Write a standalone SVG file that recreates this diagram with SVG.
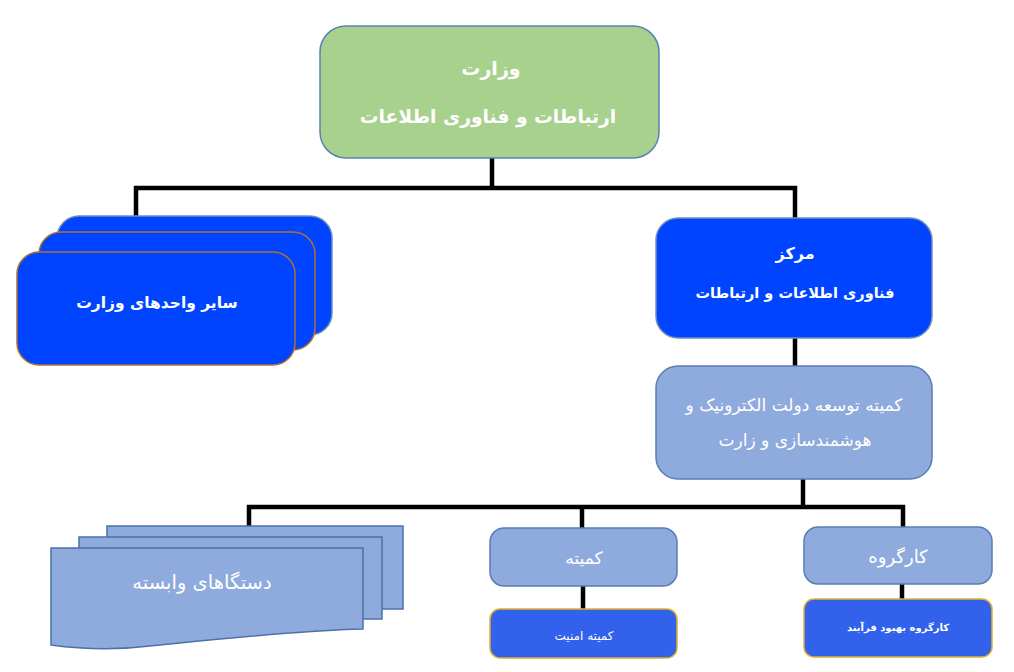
<svg xmlns="http://www.w3.org/2000/svg" width="1014" height="672" viewBox="0 0 1014 672">
<style>
  .t { font-family: "DejaVu Sans", "Noto Sans", sans-serif; fill: #ffffff; text-anchor: middle; direction: rtl; }
  .b { font-weight: bold; }
  .green { fill: #A9D18E; stroke: #5B82B5; stroke-width: 1.5; }
  .blue { fill: #0044FF; stroke: #6F8FB8; stroke-width: 1.5; }
  .light { fill: #8FAADC; stroke: #5A7EB0; stroke-width: 1.5; }
  .mid { fill: #3262EC; stroke: #E0B030; stroke-width: 1.5; }
  .conn { stroke: #000000; stroke-width: 4.5; fill: none; stroke-linecap: square; }
</style>
<rect width="1014" height="672" fill="#ffffff"/>
<g id="connectors">
  <path class="conn" d="M492,160 V188 M136,188 H795 M136,188 V216 M795,188 V218"/>
  <path class="conn" d="M795,340 V365"/>
  <path class="conn" d="M803,481 V507 M249,507 H903 M249,507 V525 M582,507 V527 M903,507 V526"/>
  <path class="conn" d="M583,588 V608"/>
  <path class="conn" d="M902,586 V598"/>
</g>
<g id="ministry">
  <rect class="green" x="320" y="26" width="339" height="132" rx="26"/>
  <text class="t b" x="491" y="75" font-size="19">وزارت</text>
  <text class="t b" x="488" y="123" font-size="18.7">ارتباطات و فناوری اطلاعات</text>
</g>
<g id="other-units">
  <rect x="57" y="216" width="275" height="119" rx="22" fill="#0044FF" stroke="#6F8FB8" stroke-width="1.5"/>
  <rect x="39" y="232" width="276" height="118" rx="22" fill="#0044FF" stroke="#B0702E" stroke-width="1.5"/>
  <rect x="17" y="252" width="278" height="113" rx="22" fill="#0044FF" stroke="#B0702E" stroke-width="1.5"/>
  <text class="t b" x="157" y="308" font-size="15.5">سایر واحدهای وزارت</text>
</g>
<g id="center">
  <rect class="blue" x="656" y="218" width="276" height="120" rx="22"/>
  <text class="t b" x="795" y="259" font-size="16">مرکز</text>
  <text class="t b" x="795" y="298" font-size="14.5">فناوری اطلاعات و ارتباطات</text>
</g>
<g id="committee-egov">
  <rect class="light" x="656" y="366" width="276" height="113" rx="22"/>
  <text class="t" x="794" y="411" font-size="17">کمیته توسعه دولت الکترونیک و</text>
  <text class="t" x="795" y="446" font-size="17">هوشمندسازی و زارت</text>
</g>
<g id="affiliated">
  <rect x="107" y="526" width="296" height="83" fill="#8FAADC" stroke="#4A72A8" stroke-width="1.5"/>
  <rect x="79" y="537" width="303" height="82" fill="#8FAADC" stroke="#4A72A8" stroke-width="1.5"/>
  <path d="M51,548 H363 V629 C290,631 210,640 150,646 C110,651 80,649 51,645 Z" fill="#8FAADC" stroke="#4A72A8" stroke-width="1.5"/>
  <text class="t" x="202" y="589" font-size="19.5">دستگاهای وابسته</text>
</g>
<g id="committee">
  <rect class="light" x="490" y="528" width="187" height="58" rx="14"/>
  <text class="t" x="584" y="564" font-size="17">کمیته</text>
</g>
<g id="security-committee">
  <rect class="mid" x="490" y="609" width="187" height="49" rx="10"/>
  <text class="t" x="584" y="640" font-size="12">کمیته امنیت</text>
</g>
<g id="working-group">
  <rect class="light" x="804" y="527" width="188" height="57" rx="14"/>
  <text class="t" x="898" y="563" font-size="18">کارگروه</text>
</g>
<g id="process-working-group">
  <rect class="mid" x="804" y="599" width="188" height="58" rx="10"/>
  <text class="t b" x="898" y="631" font-size="10">کارگروه بهبود فرآیند</text>
</g>
</svg>
